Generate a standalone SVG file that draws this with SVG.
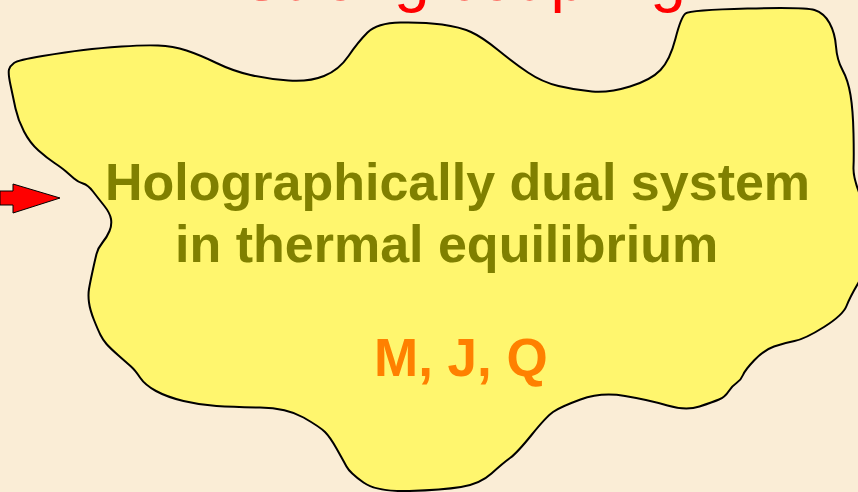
<svg xmlns="http://www.w3.org/2000/svg" width="858" height="492" viewBox="0 0 858 492">
<style>
.bg{fill:#FAEDD6}
.blob{fill:#FFF66E;stroke:#000;stroke-width:2;stroke-linejoin:round}
.arrow{fill:#FF0000;stroke:#000;stroke-width:1;stroke-linejoin:miter}
.title{font-family:"Liberation Sans",Arial,sans-serif;font-size:64px;fill:#FF0000}
.main{font-family:"Liberation Sans",Arial,sans-serif;font-weight:bold;font-size:52px;fill:#808000}
.qty{font-family:"Liberation Sans",Arial,sans-serif;font-weight:bold;font-size:53px;fill:#FF8000}
</style>
<rect class="bg" x="0" y="0" width="858" height="492"/>
<text class="title" x="241" y="0">Strong coupling</text>
<g id="system">
<path class="blob" d="M14,63 Q18,60 42.5,56 Q67,52 83.5,50 Q100,48 121.5,46.5 Q143,45 158,45.5 Q173,46 186.5,50.5 Q200,55 216.5,63 Q233,71 250.5,75 Q268,79 288.5,80.5 Q309,82 324,76 Q339,70 348.5,56 Q358,42 367.5,32.5 Q377,23 400.5,22.5 Q424,22 442,24.5 Q460,27 471,32 Q482,37 498,50 Q514,63 528,72.5 Q542,82 558.5,86 Q575,90 592,91.5 Q609,93 630,86.5 Q651,80 660.5,70 Q670,60 675.5,38.5 Q681,17 685.5,13.5 Q690,10 747.5,8.5 Q805,7 814.5,10 Q824,13 829.5,23 Q835,33 836,46.5 Q837,60 842.5,70 Q848,80 850.5,95 Q853,110 853.5,133.5 Q854,157 853.5,167 Q853,177 859.5,193.5 Q866,210 866,240 Q866,270 858,283.5 Q850,297 846.5,306 Q843,315 824,327 Q805,339 794.5,341 Q784,343 774,346.5 Q764,350 754.5,360 Q745,370 743,375 Q741,380 736.5,383 Q732,386 728.5,391.5 Q725,397 719,399.5 Q713,402 699.5,406.5 Q686,411 667.5,405.5 Q649,400 625,396 Q601,392 580.5,399.5 Q560,407 553,412 Q546,417 531.5,435 Q517,453 510,458 Q503,463 491.5,473.5 Q480,484 461,487 Q442,490 409.5,491 Q377,492 363.5,482.5 Q350,473 346.5,466.5 Q343,460 336.5,448.5 Q330,437 325,432 Q320,427 303.5,417.5 Q287,408 260,407.5 Q233,407 216.5,406 Q200,405 183.5,401 Q167,397 156,391 Q145,385 140,377.5 Q135,370 131,366.5 Q127,363 118.5,355.5 Q110,348 106.5,344 Q103,340 100.5,335 Q98,330 94,320 Q90,310 89,302.5 Q88,295 89,289 Q90,283 92.5,271.5 Q95,260 96.5,254 Q98,248 102.5,242.5 Q107,237 109.5,231 Q112,225 111,219 Q110,213 104,205.5 Q98,198 93,191.5 Q88,185 83,183.5 Q78,182 74,178.5 Q70,175 66,171.5 Q62,168 54.5,163 Q47,158 38.5,150.5 Q30,143 24,131.5 Q18,120 15.5,108.5 Q13,97 10.5,85 Q8,73 9,69.5 Q10,66 14,63 Z"/>
<text class="main" x="105" y="200">Holographically dual system</text>
<text class="main" x="175" y="262">in thermal equilibrium</text>
<text class="qty" x="374" y="376">M, J, Q</text>
</g>
<g id="connectors">
<polygon class="arrow" points="0,191 13,191 13,184 60,198 13,213 13,205 0,205"/>
</g>
</svg>
